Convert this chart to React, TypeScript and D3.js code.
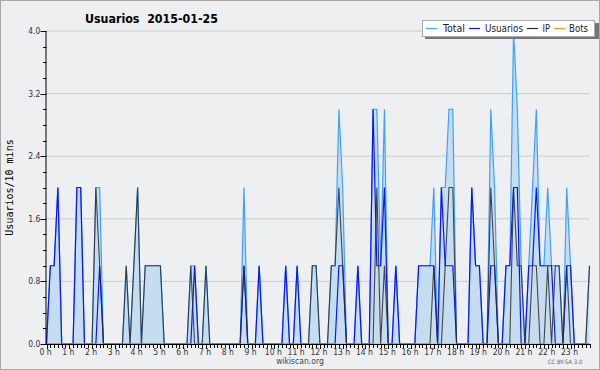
import React from "react";
import * as d3 from "d3";

const title = "Usuarios  2015-01-25";
const yLabel = "Usuarios/10 mins";
const hourLabels = Array.from({ length: 24 }, (_, h) => `${h} h`);
const yTicks = [0, 0.8, 1.6, 2.4, 3.2, 4.0];

// 144 ten-minute slots (0h00 .. 23h50)
const total = [
  0, 1, 1, 2, 0, 0, 0, 0, 2, 2, 0, 0, 0, 2, 2, 0, 0, 0, 0, 0, 0, 1, 0, 1,
  2, 0, 1, 1, 1, 1, 1, 0, 0, 0, 0, 0, 0, 0, 1, 1, 0, 0, 1, 0, 0, 0, 0, 0,
  0, 0, 0, 0, 2, 0, 0, 0, 1, 0, 0, 0, 0, 0, 0, 1, 0, 0, 1, 0, 0, 0, 1, 1,
  0, 0, 0, 1, 1, 3, 2, 0, 0, 0, 1, 0, 0, 0, 3, 3, 1, 3, 0, 0, 1, 0, 0, 0,
  0, 0, 1, 1, 1, 1, 2, 0, 2, 2, 3, 3, 0, 0, 0, 0, 2, 1, 1, 0, 0, 3, 2, 0,
  0, 1, 1, 4, 3, 1, 0, 1, 2, 3, 1, 1, 2, 1, 1, 1, 0, 2, 1, 0, 0, 0, 0, 1,
];
const usuarios = [
  0, 1, 1, 2, 0, 0, 0, 0, 2, 2, 0, 0, 0, 0, 1, 0, 0, 0, 0, 0, 0, 0, 0, 0,
  0, 0, 0, 0, 0, 0, 0, 0, 0, 0, 0, 0, 0, 0, 0, 1, 0, 0, 0, 0, 0, 0, 0, 0,
  0, 0, 0, 0, 1, 0, 0, 0, 1, 0, 0, 0, 0, 0, 0, 1, 0, 0, 1, 0, 0, 0, 0, 0,
  0, 0, 0, 0, 0, 1, 1, 0, 0, 0, 1, 0, 0, 0, 3, 1, 1, 2, 0, 0, 1, 0, 0, 0,
  0, 0, 1, 1, 1, 1, 1, 0, 2, 1, 1, 1, 0, 0, 0, 0, 2, 1, 1, 0, 0, 1, 1, 0,
  0, 1, 1, 2, 2, 0, 0, 1, 1, 2, 1, 1, 1, 1, 0, 0, 0, 1, 1, 0, 0, 0, 0, 0,
];
const ip = [
  0, 0, 0, 0, 0, 0, 0, 0, 0, 0, 0, 0, 0, 2, 1, 0, 0, 0, 0, 0, 0, 1, 0, 1,
  2, 0, 1, 1, 1, 1, 1, 0, 0, 0, 0, 0, 0, 0, 1, 0, 0, 0, 1, 0, 0, 0, 0, 0,
  0, 0, 0, 0, 1, 0, 0, 0, 0, 0, 0, 0, 0, 0, 0, 0, 0, 0, 0, 0, 0, 0, 1, 1,
  0, 0, 0, 1, 1, 2, 1, 0, 0, 0, 0, 0, 0, 0, 0, 2, 0, 1, 0, 0, 0, 0, 0, 0,
  0, 0, 0, 0, 0, 0, 1, 0, 0, 1, 2, 2, 0, 0, 0, 0, 0, 0, 0, 0, 0, 2, 1, 0,
  0, 0, 0, 2, 1, 1, 0, 0, 1, 1, 0, 0, 1, 0, 1, 1, 0, 1, 0, 0, 0, 0, 0, 1,
];
const bots = new Array(144).fill(0);

const W = 600;
const H = 370;
const X0 = 46.5;
const X1 = 589.5;
const YTOP = 31;
const YBOT = 344;

const COL_TOTAL = "#3fa0ff";
const COL_FILL = "#c6ddf0";
const COL_USU = "#0a14ff";
const COL_IP = "#2b2b2b";
const COL_BOTS = "#ffa020";

export default function App() {
  const x = d3.scaleLinear().domain([0, 143]).range([X0, X1]);
  const y = d3.scaleLinear().domain([0, 4]).range([YBOT, YTOP]);

  const idx = d3.range(144);
  const line = (arr: number[]) =>
    d3
      .line<number>()
      .x((i) => x(i))
      .y((i) => y(arr[i]))(idx) as string;
  const area = d3
    .area<number>()
    .x((i) => x(i))
    .y0(y(0))
    .y1((i) => y(total[i]))(idx) as string;

  const minorY = d3.range(0, 21).map((k) => k * 0.2);
  const font = "'DejaVu Sans Condensed', 'DejaVu Sans', sans-serif";

  const legendItems = [
    { label: "Total", color: COL_TOTAL, lx: 426, tx: 443, tw: 22 },
    { label: "Usuarios", color: COL_USU, lx: 469, tx: 485, tw: 38 },
    { label: "IP", color: COL_IP, lx: 527, tx: 542.5, tw: 7.5 },
    { label: "Bots", color: COL_BOTS, lx: 554, tx: 569, tw: 19 },
  ];
  const legendX = 422;
  const legendW = 172;

  return (
    <svg
      width={W}
      height={H}
      style={{ position: "absolute", left: 0, top: 0, display: "block" }}
    >
      <rect x={0} y={0} width={W} height={H} fill="#eeeff1" />
      <rect x={0.5} y={0.5} width={W - 1} height={H - 1} fill="none" stroke="#a8a8a8" />

      {/* grid */}
      {yTicks.slice(1).map((v) => (
        <line key={v} x1={X0} x2={X1} y1={y(v)} y2={y(v)} stroke="#cccccc" strokeWidth={1} />
      ))}

      {/* data */}
      <path d={area} fill={COL_FILL} />
      <path d={line(total)} fill="none" stroke={COL_TOTAL} strokeWidth={1.2} />
      <path d={line(usuarios)} fill="none" stroke={COL_USU} strokeWidth={1.2} />
      <path d={line(ip)} fill="none" stroke={COL_IP} strokeWidth={1.1} strokeOpacity={0.85} />
      <path d={line(bots)} fill="none" stroke={COL_BOTS} strokeWidth={1} />

      {/* y axis */}
      <line x1={X0 - 0.5} x2={X0 - 0.5} y1={YTOP} y2={YBOT} stroke="#000" />
      {minorY.map((v, k) => (
        <line
          key={k}
          x1={k % 4 === 0 ? X0 - 6 : X0 - 3.5}
          x2={X0}
          y1={Math.round(y(v)) + 0.5}
          y2={Math.round(y(v)) + 0.5}
          stroke="#000"
        />
      ))}
      {yTicks.map((v) => (
        <text
          key={v}
          x={X0 - 6}
          y={y(v) + 3}
          textAnchor="end"
          fontFamily={font}
          fontSize={8.5}
          fill="#333"
        >
          {v.toFixed(1)}
        </text>
      ))}

      {/* x axis */}
      <line x1={X0 - 0.5} x2={X1 + 1} y1={YBOT + 0.5} y2={YBOT + 0.5} stroke="#000" />
      {idx.map((i) => (
        <line
          key={i}
          x1={Math.round(x(i)) + 0.5}
          x2={Math.round(x(i)) + 0.5}
          y1={YBOT}
          y2={YBOT + (i % 6 === 0 ? 5 : 4)}
          stroke="#000"
        />
      ))}
      {hourLabels.map((t, h) => (
        <text
          key={t}
          x={x(h * 6) - 1}
          y={YBOT + 11}
          textAnchor="middle"
          fontFamily={font}
          fontSize={8.5}
          fill="#333"
        >
          {t}
        </text>
      ))}

      {/* title & labels */}
      <text
        x={85}
        y={23}
        fontFamily={font}
        fontSize={13}
        fontWeight="bold"
        fill="#000"
        textLength={133}
        lengthAdjust="spacingAndGlyphs"
        style={{ whiteSpace: "pre" }}
      >
        {title}
      </text>
      <text
        transform={`translate(13, ${(YTOP + YBOT) / 2}) rotate(-90)`}
        textAnchor="middle"
        fontFamily="'DejaVu Sans Mono', monospace"
        fontSize={10}
        fill="#000"
      >
        {yLabel}
      </text>
      <text x={300} y={364} textAnchor="middle" fontFamily={font} fontSize={8.5} fill="#444">
        wikiscan.org
      </text>
      <text x={565} y={364} textAnchor="middle" fontFamily={font} fontSize={6} fill="#666">
        CC BY-SA 3.0
      </text>

      {/* legend */}
      <rect x={legendX + 3} y={23} width={legendW + 2} height={16} fill="#757575" />
      <rect x={legendX + 0.5} y={20.5} width={legendW} height={16} fill="#fff" stroke="#aaa" />
      {legendItems.map((it) => (
        <g key={it.label}>
          <line x1={it.lx} x2={it.lx + 11} y1={28.5} y2={28.5} stroke={it.color} strokeWidth={1.2} />
          <text
            x={it.tx}
            y={32}
            fontFamily={font}
            fontSize={10}
            fill="#222"
            textLength={it.tw}
            lengthAdjust="spacingAndGlyphs"
          >
            {it.label}
          </text>
        </g>
      ))}
    </svg>
  );
}
